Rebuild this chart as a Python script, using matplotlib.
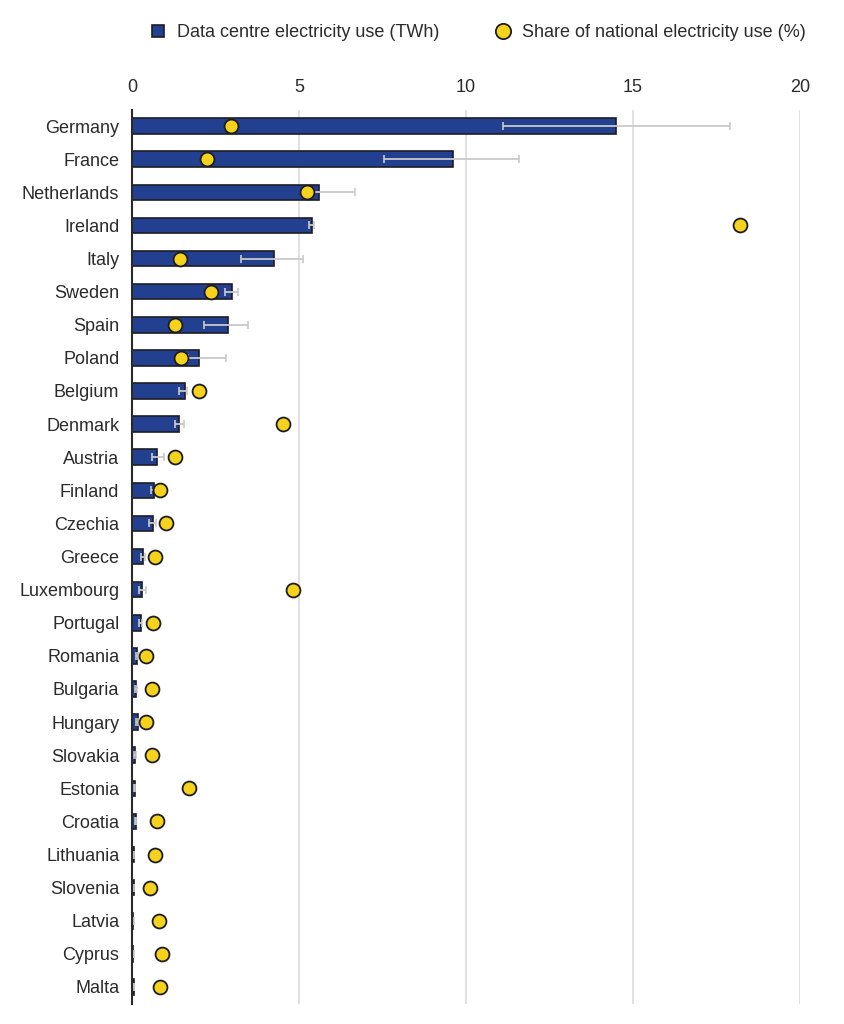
import matplotlib.pyplot as plt
import numpy as np

plt.rcParams['font.family'] = ['Liberation Sans', 'DejaVu Sans']

countries = ['Germany', 'France', 'Netherlands', 'Ireland', 'Italy', 'Sweden', 'Spain',
             'Poland', 'Belgium', 'Denmark', 'Austria', 'Finland', 'Czechia', 'Greece',
             'Luxembourg', 'Portugal', 'Romania', 'Bulgaria', 'Hungary', 'Slovakia',
             'Estonia', 'Croatia', 'Lithuania', 'Slovenia', 'Latvia', 'Cyprus', 'Malta']

# data centre electricity use (TWh)
use_twh = [14.5, 9.6, 5.59, 5.38, 4.24, 3.0, 2.89, 2.02, 1.59, 1.41, 0.76, 0.67, 0.62, 0.34,
           0.29, 0.28, 0.16, 0.14, 0.17, 0.11, 0.1, 0.12, 0.06, 0.06, 0.05, 0.05, 0.07]
use_low = [11.1, 7.55, 5.3, 5.3, 3.26, 2.8, 2.16, 1.68, 1.41, 1.3, 0.61, 0.58, 0.52, 0.26,
           0.22, 0.2, 0.12, 0.1, 0.12, 0.08, 0.08, 0.09, 0.05, 0.05, 0.04, 0.04, 0.06]
use_high = [17.9, 11.6, 6.67, 5.45, 5.13, 3.19, 3.48, 2.82, 1.64, 1.57, 0.97, 0.72, 0.71, 0.4,
            0.42, 0.31, 0.18, 0.16, 0.19, 0.12, 0.11, 0.13, 0.07, 0.07, 0.06, 0.06, 0.08]

# share of national electricity use (%)
share_pct = [2.97, 2.26, 5.24, 18.2, 1.45, 2.38, 1.29, 1.46, 2.0, 4.53, 1.3, 0.85, 1.02, 0.69,
             4.83, 0.64, 0.42, 0.59, 0.42, 0.59, 1.72, 0.75, 0.68, 0.53, 0.8, 0.91, 0.85]

bar_color = '#22408f'
dot_color = '#f5d21c'
edge = '#1c1c24'
text_color = '#2b2b2b'

y = np.arange(len(countries))
use = np.array(use_twh)
xerr = np.array([use - np.array(use_low), np.array(use_high) - use])

fig = plt.figure(figsize=(8.45, 10.24), dpi=100)
ax = fig.add_axes([0.156, 0.02, 0.791, 0.873])

ax.barh(y, use, height=0.47, color=bar_color, edgecolor=edge, linewidth=1.2, zorder=2,
        label='Data centre electricity use (TWh)')
ax.errorbar(use, y, xerr=xerr, fmt='none', ecolor='#c9c9c9', elinewidth=1.3,
            capsize=3, capthick=1.2, zorder=3)
ax.plot(share_pct, y, 'o', color=dot_color, markeredgecolor=edge, markeredgewidth=1.3,
        markersize=10, zorder=4, label='Share of national electricity use (%)')

ax.set_xlim(0, 20)
ax.set_ylim(len(countries) - 0.5, -0.5)
ax.set_yticks(y)
ax.set_yticklabels(countries)
ax.set_xticks([0, 5, 10, 15, 20])
ax.xaxis.tick_top()
ax.tick_params(axis='both', length=0, labelsize=13, colors=text_color)
ax.tick_params(axis='x', pad=10)
ax.tick_params(axis='y', pad=9)
ax.grid(axis='x', color='#dcdcdc', linewidth=1.2, zorder=0)
ax.set_axisbelow(True)
for s in ['top', 'right', 'bottom']:
    ax.spines[s].set_visible(False)
ax.spines['left'].set_color('#2a2a2a')
ax.spines['left'].set_linewidth(1.5)
ax.spines['left'].set_zorder(5)

handles = [
    plt.Line2D([], [], marker='s', linestyle='none', markersize=9, markerfacecolor=bar_color,
               markeredgecolor=edge, markeredgewidth=1.2),
    plt.Line2D([], [], marker='o', linestyle='none', markersize=11, markerfacecolor=dot_color,
               markeredgecolor=edge, markeredgewidth=1.3),
]
fig.legend(handles, ['Data centre electricity use (TWh)', 'Share of national electricity use (%)'],
           loc='center', bbox_to_anchor=(0.565, 0.968), ncol=2, frameon=False,
           fontsize=13, handlelength=1.0, handletextpad=0.55, columnspacing=3.0,
           labelcolor=text_color)

plt.savefig('out.png', dpi=100)
